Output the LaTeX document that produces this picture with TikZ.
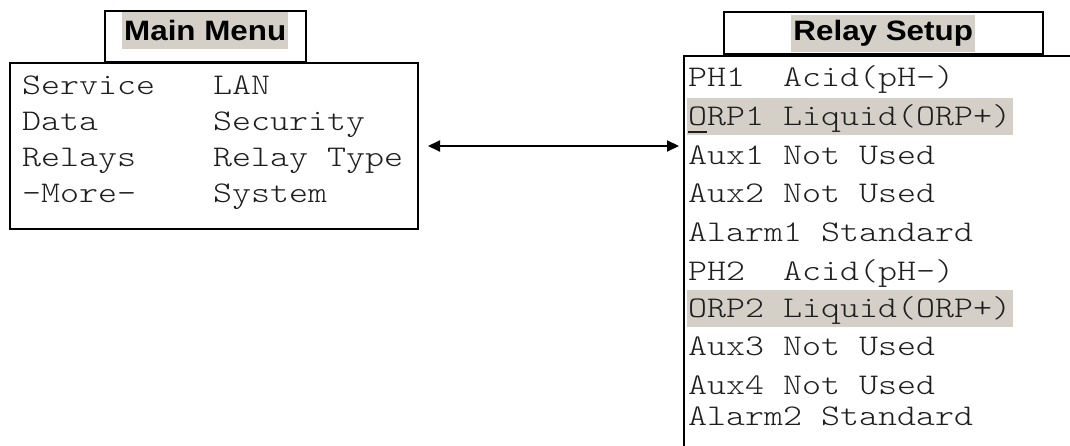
\documentclass[tikz,border=0pt]{standalone}
\usepackage{fontspec}
\usetikzlibrary{arrows.meta}
\newfontfamily\cmono[FakeStretch=1.206]{Latin Modern Mono Light}
\newfontfamily\tsans[FakeStretch=1.12]{Liberation Sans}
\definecolor{hl}{RGB}{212,208,200}
\definecolor{txt}{RGB}{30,30,30}
\tikzset{
  box/.style={draw=black, line width=2pt, inner sep=0pt, fill=white},
  hlbox/.style={fill=hl, draw=none, inner sep=0pt},
  ttext/.style={font=\tsans\bfseries\fontsize{28}{32}\selectfont, inner sep=0pt, text=black},
  ltext/.style={font=\cmono\fontsize{30}{35}\selectfont, anchor=base west, inner sep=0pt, text=txt},
  rtext/.style={ltext},
  conn/.style={line width=2pt, {Triangle[length=12pt,width=11pt]}-{Triangle[length=12pt,width=11pt]}}
}
\begin{document}
\begin{tikzpicture}[x=1pt,y=-1pt]
\useasboundingbox (0,0) rectangle (1070,446);
\clip (0,0) rectangle (1070,446);
\fill[white] (0,0) rectangle (1070,446);
% Main Menu
\node[box, minimum width=201pt, minimum height=51pt, anchor=north west] (maintitle) at (104,10) {};
\node[box, minimum width=408pt, minimum height=166pt, anchor=north west] (mainbox) at (9,62) {};
\node[hlbox, minimum width=166pt, minimum height=37pt, anchor=north west] (mainhl) at (122,12) {};
\node[ttext] (maintext) at (mainhl.center) {Main Menu};
\node[ltext] (m1) at (22,95) {Service};
\node[ltext] (m2) at (22,131) {Data};
\node[ltext] (m3) at (22,167) {Relays};
\node[ltext] (m4) at (22,203) {-More-};
\node[ltext] (m5) at (213,95) {LAN};
\node[ltext] (m6) at (213,131) {Security};
\node[ltext] (m7) at (213,167) {Relay Type};
\node[ltext] (m8) at (213,203) {System};
% Relay Setup
\node[box, minimum width=600pt, minimum height=600pt, anchor=north west] (relaybox) at (683,55) {};
\node[box, minimum width=319pt, minimum height=42pt, anchor=south west] (relaytitle) at (723,55) {};
\node[hlbox, minimum width=184pt, minimum height=37pt, anchor=north west] (relayhl) at (791,15) {};
\node[ttext] (relaytext) at (relayhl.center) {Relay Setup};
\node[hlbox, minimum width=326pt, minimum height=37pt, anchor=north west] (hl1) at (687,98) {};
\node[hlbox, minimum width=326pt, minimum height=37pt, anchor=north west] (hl2) at (687,290) {};
\node[rtext] (r1) at (688,87) {PH1\ \ Acid(pH-)};
\node[rtext] (r2) at (688,126) {\rlap{\rule[-7pt]{19pt}{2pt}}ORP1 Liquid(ORP+)};
\node[rtext] (r3) at (688,165) {Aux1 Not Used};
\node[rtext] (r4) at (688,203) {Aux2 Not Used};
\node[rtext] (r5) at (688,242) {Alarm1 Standard};
\node[rtext] (r6) at (688,280) {PH2\ \ Acid(pH-)};
\node[rtext] (r7) at (688,317) {ORP2 Liquid(ORP+)};
\node[rtext] (r8) at (688,355) {Aux3 Not Used};
\node[rtext] (r9) at (688,394) {Aux4 Not Used};
\node[rtext] (r10) at (688,425) {Alarm2 Standard};
% connector
\draw[conn, shorten <=9pt, shorten >=4pt] (mainbox.east) -- (mainbox.east -| relaybox.west);
\end{tikzpicture}
\end{document}
